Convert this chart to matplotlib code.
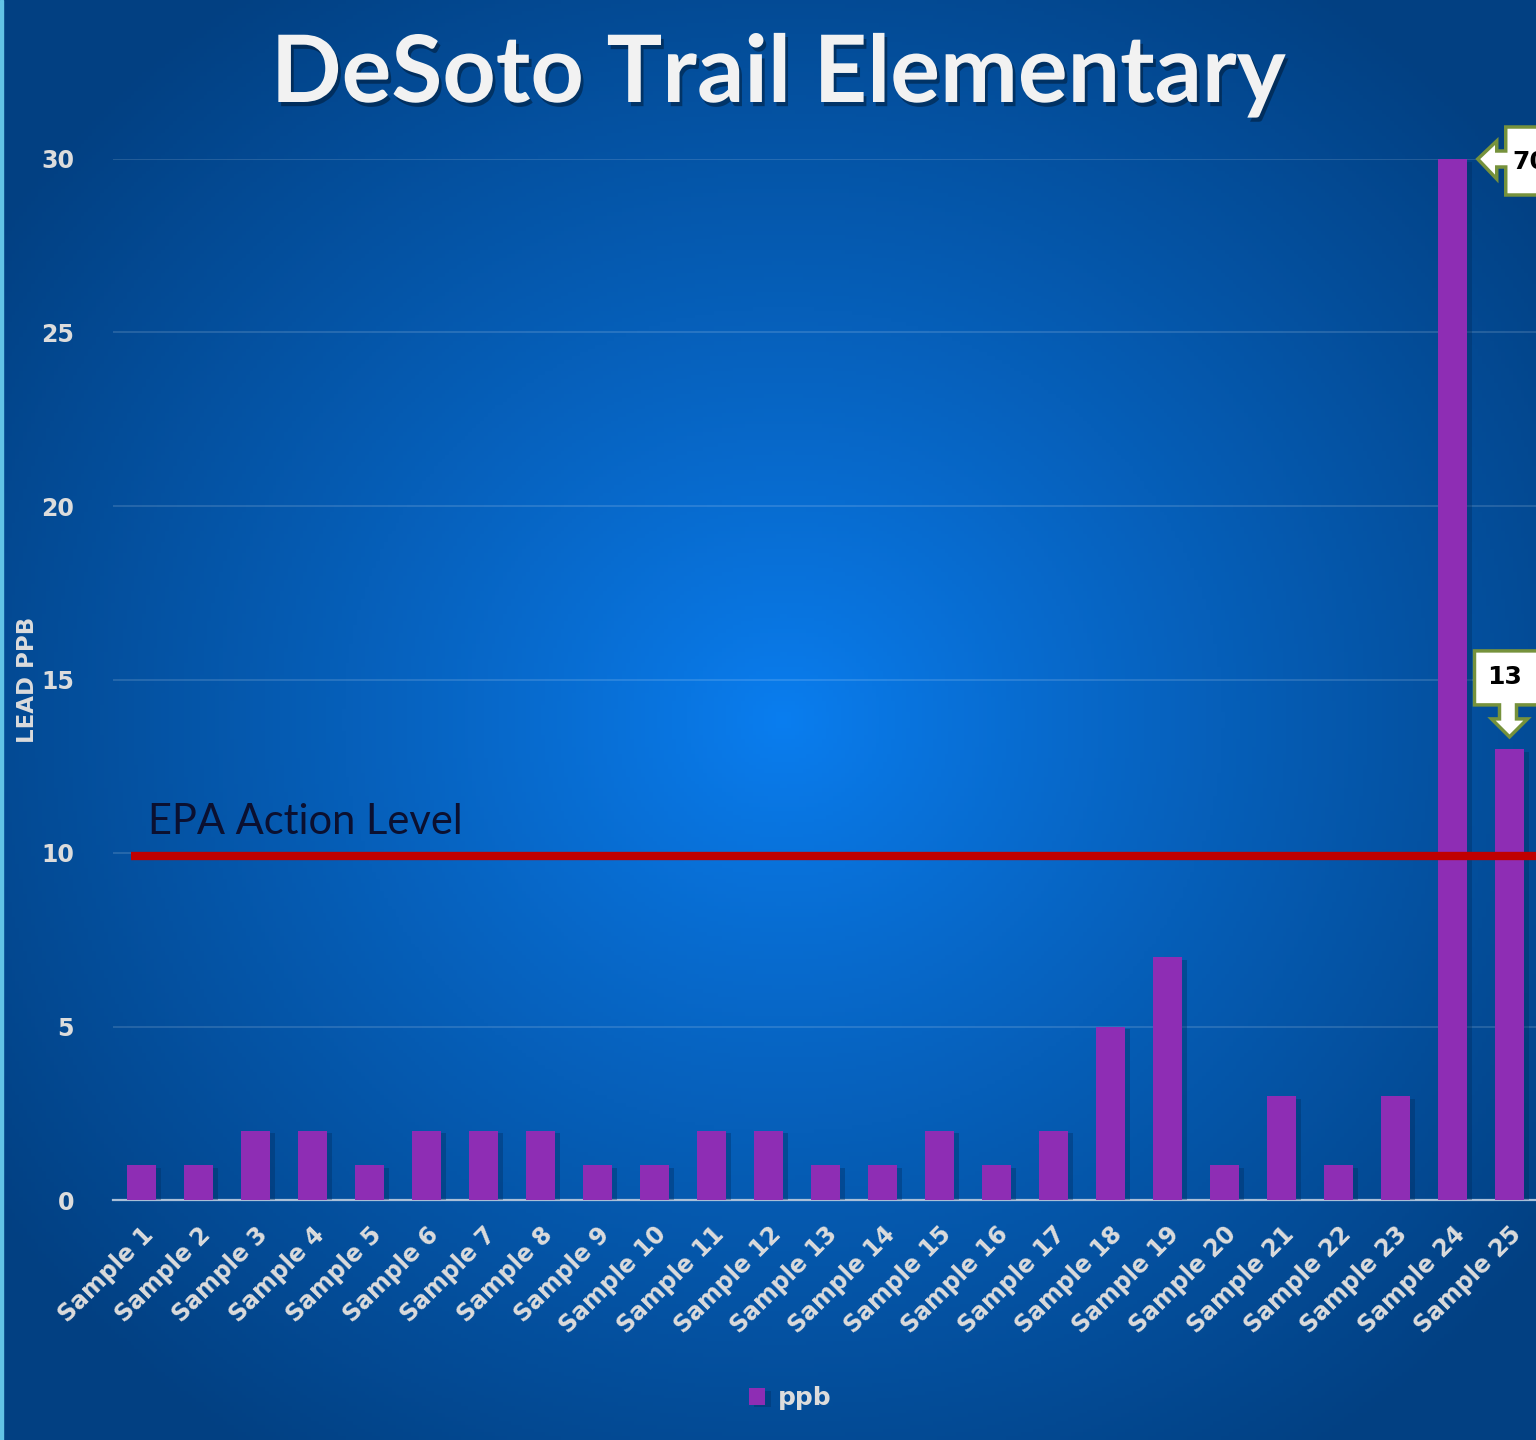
import numpy as np
import matplotlib
matplotlib.use("Agg")
from matplotlib import pyplot as plt
from matplotlib.patches import Polygon, Rectangle
from matplotlib.transforms import IdentityTransform
import matplotlib.patheffects as pe

# data
samples = ["Sample %d" % i for i in range(1, 26)]
ppb = [1, 1, 2, 2, 1, 2, 2, 2, 1, 1, 2, 2, 1, 1, 2, 1, 2, 5, 7, 1, 3, 1, 3, 70, 13]
yticks = [0, 5, 10, 15, 20, 25, 30]
epa_level = 9.9
title = "DeSoto Trail Elementary"

W, H, DPI = 1536, 1440, 100
plt.rcParams['font.family'] = ['Lato', 'DejaVu Sans']
tickfont = ['DejaVu Sans']

fig = plt.figure(figsize=(W / DPI, H / DPI), dpi=DPI)

# radial blue background
bg = fig.add_axes([0, 0, 1, 1], zorder=-10)
gx, gy = np.meshgrid(np.linspace(0, 1, 400), np.linspace(0, 1, 380))
r = np.sqrt(((gx - 0.51) / 0.62) ** 2 + ((gy - 0.50) / 0.62) ** 2)
r = np.clip(r, 0, 1) ** 0.9
c0 = np.array([10, 126, 240]) / 255.0
c1 = np.array([2, 64, 130]) / 255.0
img = c0[None, None, :] * (1 - r[..., None]) + c1[None, None, :] * r[..., None]
bg.imshow(img, extent=[0, 1, 0, 1], aspect='auto', origin='upper')
bg.axis('off')
fig.add_artist(Rectangle((0, 0), 2.5 / W, 1, transform=fig.transFigure,
                         color='#62c3e6', zorder=-5))

ax = fig.add_axes([113 / W, 1 - 1200 / H, 1425 / W, 1041 / H])
ax.patch.set_alpha(0)
x = np.arange(len(samples))
ymax = yticks[-1]
bars = ax.bar(x, np.minimum(ppb, ymax), width=0.5, color='#8e2db4', label='ppb', zorder=3)
for b in bars:
    b.set_path_effects([pe.SimplePatchShadow(offset=(4, -2), shadow_rgbFace='#012a5a', alpha=0.35),
                        pe.Normal()])
ax.set_xlim(-0.5, len(samples) - 0.5)
ax.set_ylim(0, ymax)
ax.set_yticks(yticks)
ax.set_xticks(x)
ax.set_xticklabels(samples, rotation=45, ha='right', rotation_mode='anchor')
for s in ['top', 'right', 'left']:
    ax.spines[s].set_visible(False)
ax.spines['bottom'].set_color('#a9bfd8')
ax.spines['bottom'].set_linewidth(1.6)
ax.tick_params(axis='both', length=0, colors='#dcdcdc')
ax.tick_params(axis='y', pad=28, labelsize=17)
ax.tick_params(axis='x', pad=16, labelsize=17)
for lab in ax.get_xticklabels() + ax.get_yticklabels():
    lab.set_fontweight('bold')
    lab.set_family(tickfont)
ax.yaxis.grid(True, color='white', alpha=0.16, lw=1.2)
ax.set_axisbelow(True)

fig.text(27 / W, 1 - 680 / H, "LEAD PPB", rotation=90, ha='center', va='center',
         color='#dcdcdc', fontsize=16.5, fontweight='bold', family=tickfont)

# EPA action level
ax.plot([-0.18, len(samples) - 0.4], [epa_level, epa_level], color='#c00000', lw=6,
        solid_capstyle='butt', clip_on=False, zorder=5)
ax.text(0.11, epa_level + 0.45, "EPA Action Level", fontsize=30, color='#0b1030',
        ha='left', va='bottom', zorder=6)

fig.text(0.5 + 10 / W, 1 - 75 / H, title, ha='center', va='center', color='#f2f2f2',
         fontsize=67, fontweight='bold',
         path_effects=[pe.withSimplePatchShadow(offset=(2, -3), shadow_rgbFace='black', alpha=0.35)])

leg = fig.legend(loc='center', bbox_to_anchor=(790 / W, 1 - 1398 / H), frameon=False,
                 handlelength=0.65, handleheight=0.65, handletextpad=0.5,
                 prop={'family': tickfont, 'weight': 'bold', 'size': 18})
for t in leg.get_texts():
    t.set_color('#dcdcdc')

# callouts for values above the axis / last bar
edge = '#76923c'
ident = IdentityTransform()

def callout_left(i, val):
    px, py = ax.transData.transform((i + 0.25, min(val, ymax)))
    tx = px + 11
    sy = py
    pts = [(tx, sy), (tx + 19, sy + 18), (tx + 19, sy + 8), (tx + 28, sy + 8), (tx + 28, sy + 32),
           (tx + 80, sy + 32), (tx + 80, sy - 36), (tx + 28, sy - 36), (tx + 28, sy - 8),
           (tx + 19, sy - 8), (tx + 19, sy - 20)]
    fig.add_artist(Polygon(pts, closed=True, transform=ident, facecolor='white',
                           edgecolor=edge, lw=2.5, zorder=10))
    fig.text((tx + 35) / W, (sy - 3) / H, str(val), ha='left', va='center', family=tickfont,
             fontsize=18, fontweight='bold', color='black', zorder=11)

def callout_down(i, val):
    px, py = ax.transData.transform((i, val))
    ty = py + 12
    pts = [(px, ty), (px - 18, ty + 18), (px - 10, ty + 18), (px - 10, ty + 32), (px - 35, ty + 32),
           (px - 35, ty + 86), (px + 40, ty + 86), (px + 40, ty + 32), (px + 7, ty + 32),
           (px + 7, ty + 18), (px + 18, ty + 18)]
    fig.add_artist(Polygon(pts, closed=True, transform=ident, facecolor='white',
                           edgecolor=edge, lw=2.5, zorder=10))
    fig.text((px - 5) / W, (ty + 60) / H, str(val), ha='center', va='center', family=tickfont,
             fontsize=18, fontweight='bold', color='black', zorder=11)

callout_left(23, ppb[23])
callout_down(24, ppb[24])

fig.savefig("out.png", dpi=DPI)
